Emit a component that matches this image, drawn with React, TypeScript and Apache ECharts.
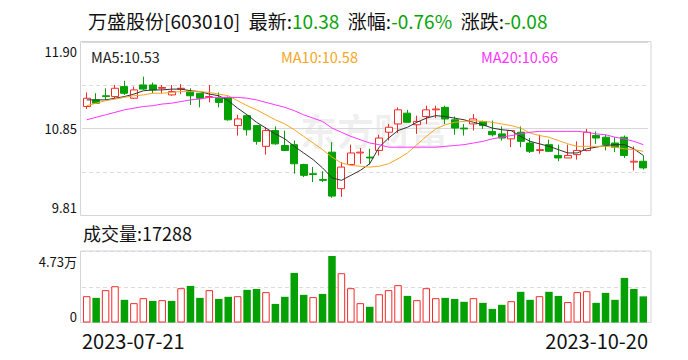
import React, { useEffect, useRef } from "react";
import * as echarts from "echarts";

const dates = [
  "2023-07-21", "2023-07-24", "2023-07-25", "2023-07-26", "2023-07-27", "2023-07-28",
  "2023-07-31", "2023-08-01", "2023-08-02", "2023-08-03", "2023-08-04",
  "2023-08-07", "2023-08-08", "2023-08-09", "2023-08-10", "2023-08-11",
  "2023-08-14", "2023-08-15", "2023-08-16", "2023-08-17", "2023-08-18",
  "2023-08-21", "2023-08-22", "2023-08-23", "2023-08-24", "2023-08-25",
  "2023-08-28", "2023-08-29", "2023-08-30", "2023-08-31", "2023-09-01",
  "2023-09-04", "2023-09-05", "2023-09-06", "2023-09-07", "2023-09-08",
  "2023-09-11", "2023-09-12", "2023-09-13", "2023-09-14", "2023-09-15",
  "2023-09-18", "2023-09-19", "2023-09-20", "2023-09-21", "2023-09-22",
  "2023-09-25", "2023-09-26", "2023-09-27", "2023-09-28",
  "2023-10-09", "2023-10-10", "2023-10-11", "2023-10-12", "2023-10-13",
  "2023-10-16", "2023-10-17", "2023-10-18", "2023-10-19", "2023-10-20",
];

const openPrices = [
  11.12, 11.2, 11.25, 11.24, 11.36, 11.22, 11.38, 11.38, 11.34, 11.26,
  11.33, 11.3, 11.28, 11.23, 11.22, 11.23, 10.89, 11.01, 10.89, 10.64,
  10.83, 10.65, 10.66, 10.42, 10.31, 10.24, 10.57, 10.13, 10.42, 10.56,
  10.51, 10.59, 10.81, 10.91, 11.04, 10.9, 11.0, 11.08, 11.11, 10.96,
  10.86, 10.91, 10.94, 10.82, 10.79, 10.73, 10.81, 10.68, 10.59, 10.66,
  10.53, 10.5, 10.54, 10.59, 10.77, 10.75, 10.68, 10.75, 10.45, 10.46,
];
const closePrices = [
  11.22, 11.16, 11.24, 11.34, 11.28, 11.32, 11.33, 11.32, 11.35, 11.3,
  11.34, 11.25, 11.22, 11.24, 11.17, 10.96, 10.97, 10.84, 10.7, 10.83,
  10.67, 10.59, 10.43, 10.29, 10.3, 10.23, 10.04, 10.39, 10.56, 10.57,
  10.5, 10.74, 10.87, 11.08, 10.93, 10.94, 11.08, 11.09, 10.97, 10.86,
  10.85, 10.97, 10.89, 10.78, 10.74, 10.83, 10.7, 10.58, 10.6, 10.58,
  10.5, 10.53, 10.59, 10.81, 10.74, 10.66, 10.63, 10.53, 10.46, 10.38,
];
const lowPrices = [
  11.09, 11.15, 11.2, 11.22, 11.26, 11.21, 11.32, 11.28, 11.28, 11.25,
  11.27, 11.14, 11.11, 11.17, 11.11, 10.95, 10.77, 10.77, 10.66, 10.54,
  10.66, 10.59, 10.31, 10.27, 10.21, 10.21, 10.02, 10.03, 10.42, 10.43,
  10.42, 10.53, 10.71, 10.8, 10.93, 10.79, 10.91, 10.98, 10.91, 10.78,
  10.77, 10.83, 10.85, 10.76, 10.71, 10.63, 10.63, 10.56, 10.55, 10.57,
  10.46, 10.5, 10.48, 10.58, 10.67, 10.59, 10.57, 10.5, 10.35, 10.36,
];
const highPrices = [
  11.29, 11.28, 11.34, 11.38, 11.43, 11.36, 11.48, 11.41, 11.38, 11.38,
  11.39, 11.34, 11.28, 11.38, 11.29, 11.24, 11.02, 11.01, 10.89, 10.87,
  10.88, 10.83, 10.71, 10.43, 10.39, 10.34, 10.69, 10.45, 10.66, 10.62,
  10.61, 10.78, 10.91, 11.11, 11.08, 11.01, 11.13, 11.13, 11.13, 11.0,
  10.91, 11.03, 10.95, 10.95, 10.88, 10.83, 10.88, 10.74, 10.78, 10.72,
  10.66, 10.66, 10.7, 10.85, 10.82, 10.78, 10.75, 10.77, 10.64, 10.53,
];
const volumes = [
  17400, 16300, 21400, 24000, 15000, 12800, 16100, 14300, 14800, 14300,
  22700, 24200, 16300, 21400, 15600, 17000, 17400, 21600, 22200, 20100,
  12300, 17000, 32800, 18300, 16800, 18900, 44000, 32600, 22700, 12800,
  10400, 18700, 21400, 24700, 17600, 14800, 22700, 16100, 16300, 15600,
  13700, 16100, 13000, 9000, 11700, 14100, 20300, 15000, 17400, 20300,
  17600, 13500, 20100, 20700, 13000, 19600, 15000, 29500, 22200, 17288,
];
const ma5 = [
  11.2, 11.2, 11.2, 11.22, 11.24, 11.27, 11.31, 11.32, 11.32, 11.33,
  11.33, 11.31, 11.3, 11.27, 11.25, 11.19, 11.1, 11.02, 10.93, 10.86,
  10.79, 10.73, 10.64, 10.56, 10.48, 10.38, 10.26, 10.23, 10.29, 10.35,
  10.43, 10.63, 10.74, 10.83, 10.87, 10.93, 10.98, 11.01, 11.0, 10.98,
  10.96, 10.93, 10.9, 10.86, 10.84, 10.83, 10.76, 10.7, 10.67, 10.64,
  10.6, 10.56, 10.56, 10.61, 10.63, 10.65, 10.66, 10.66, 10.61, 10.53,
];
const ma10 = [
  11.13, 11.16, 11.19, 11.21, 11.23, 11.25, 11.26, 11.28, 11.28, 11.29,
  11.3, 11.3, 11.3, 11.29, 11.27, 11.25, 11.19, 11.13, 11.08, 11.02,
  10.96, 10.91, 10.84, 10.76, 10.68, 10.6, 10.51, 10.44, 10.41, 10.4,
  10.39, 10.4, 10.43, 10.49, 10.56, 10.66, 10.76, 10.85, 10.9, 10.93,
  10.94, 10.95, 10.94, 10.93, 10.91, 10.89, 10.86, 10.8, 10.77, 10.75,
  10.71, 10.67, 10.64, 10.64, 10.64, 10.64, 10.63, 10.61, 10.6, 10.58,
];
const ma20 = [
  10.96, 10.99, 11.02, 11.05, 11.08, 11.1, 11.12, 11.13, 11.15, 11.16,
  11.18, 11.2, 11.21, 11.23, 11.23, 11.23, 11.23, 11.22, 11.2, 11.17,
  11.14, 11.11, 11.07, 11.02, 10.98, 10.94, 10.86, 10.81, 10.76, 10.72,
  10.68, 10.66, 10.63, 10.63, 10.63, 10.63, 10.63, 10.63, 10.64, 10.65,
  10.66, 10.68, 10.7, 10.73, 10.75, 10.77, 10.79, 10.81, 10.82, 10.82,
  10.82, 10.82, 10.82, 10.81, 10.79, 10.78, 10.75, 10.73, 10.7, 10.66,
];

const priceTickLabels = ["9.81", "", "10.85", "", "11.90"];
const volumeTickLabels = ["0", "", "4.73万"];
const xTickLabels = ["2023-07-21", "2023-10-20"];

const RED = "#f52b2b";
const GREEN = "#04a004";
const TITLE_GREEN = "#0aa40a";
const FONT = '"Microsoft YaHei", "Noto Sans CJK SC", "Noto Sans", sans-serif';

const PRICE_MIN = 9.806;
const PRICE_MAX = 11.898;
const PRICE_STEP = 0.523;
const PRICE_HALF_STEP = 1.046;
const VOL_MAX = 47300;
const VOL_STEP = 23650;

export default function App() {
  const ref = useRef<HTMLDivElement>(null);

  useEffect(() => {
    document.body.style.margin = "0";
    const chart = echarts.init(ref.current!, undefined, { renderer: "svg" });

    const candleData = dates.map((_, i) => [openPrices[i], closePrices[i], lowPrices[i], highPrices[i]]);
    const volumeData = volumes.map((v, i) => {
      const prev = i === 0 ? openPrices[0] : closePrices[i - 1];
      const up = closePrices[i] >= prev;
      return {
        value: v,
        itemStyle: up
          ? { color: "#ffffff", borderColor: RED, borderWidth: 1 }
          : { color: GREEN, borderColor: GREEN, borderWidth: 0 },
      };
    });

    const labelRich = {
      t: { fontSize: 13, fontFamily: FONT, color: "#111", padding: [3, 0, 0, 0] },
      tv: { fontSize: 13, fontFamily: FONT, color: "#111", padding: [4, 0, 0, 0] },
      m: { fontSize: 13, fontFamily: FONT, color: "#111" },
      b: { fontSize: 13, fontFamily: FONT, color: "#111", padding: [0, 0, 2, 0] },
    };

    const option: any = {
      animation: false,
      backgroundColor: "#ffffff",
      grid: [
        { left: 82, right: 40, top: 42, height: 173.5 },
        { left: 82, right: 40, top: 251, height: 71.5 },
      ],
      xAxis: [
        {
          type: "category", gridIndex: 0, data: dates, boundaryGap: true,
          axisLine: { show: false }, axisTick: { show: false }, axisLabel: { show: false }, splitLine: { show: false },
        },
        {
          type: "category", gridIndex: 1, data: dates, boundaryGap: true,
          axisLine: { show: false }, axisTick: { show: false }, axisLabel: { show: false }, splitLine: { show: false },
        },
        {
          type: "category", gridIndex: 1, data: dates, boundaryGap: false, position: "bottom",
          axisLine: { show: false }, axisTick: { show: false }, splitLine: { show: false },
          axisLabel: {
            show: true,
            interval: 0,
            margin: 8,
            fontSize: 20,
            fontFamily: FONT,
            color: "#111",
            alignMinLabel: "left",
            alignMaxLabel: "right",
            formatter: (v: string) => (xTickLabels.includes(v) ? v : ""),
          },
        },
      ],
      yAxis: [
        {
          type: "value", gridIndex: 0, min: PRICE_MIN, max: PRICE_MAX, interval: PRICE_STEP,
          axisLine: { show: false }, axisTick: { show: false },
          splitLine: { show: true, lineStyle: { color: "#dcdcdc", type: [4, 3], width: 1 } },
          axisLabel: {
            show: true, margin: 5, fontSize: 13, fontFamily: FONT, color: "#111",
            verticalAlignMinLabel: "bottom", verticalAlignMaxLabel: "top",
            rich: labelRich,
            formatter: (_v: number, idx: number) => {
              const s = priceTickLabels[idx] ?? "";
              if (!s) return "";
              return idx === 0 ? `{b|${s}}` : idx === 4 ? `{t|${s}}` : `{m|${s}}`;
            },
          },
        },
        {
          type: "value", gridIndex: 0, min: PRICE_MIN, max: PRICE_MAX, interval: PRICE_HALF_STEP,
          axisLine: { show: false }, axisTick: { show: false }, axisLabel: { show: false },
          splitLine: { show: true, lineStyle: { color: "#d8d8d8", type: "solid", width: 1 } },
        },
        {
          type: "value", gridIndex: 1, min: 0, max: VOL_MAX, interval: VOL_STEP,
          axisLine: { show: false }, axisTick: { show: false },
          splitLine: { show: true, lineStyle: { color: "#dcdcdc", type: [4, 3], width: 1 } },
          axisLabel: {
            show: true, margin: 5, fontSize: 13, fontFamily: FONT, color: "#111",
            verticalAlignMinLabel: "bottom", verticalAlignMaxLabel: "top",
            rich: labelRich,
            formatter: (_v: number, idx: number) => {
              const s = volumeTickLabels[idx] ?? "";
              if (!s) return "";
              return idx === 2 ? `{tv|${s}}` : `{m|${s}}`;
            },
          },
        },
      ],
      graphic: [
        {
          type: "text", left: 88, top: 11, z: 10,
          style: {
            text: "{k|万盛股份[603010]  最新:}{g|10.38}{k|  涨幅:}{g|-0.76%}{k|  涨跌:}{g|-0.08}",
            rich: {
              k: { fontSize: 19, fontFamily: FONT, fill: "#111" },
              g: { fontSize: 19, fontFamily: FONT, fill: TITLE_GREEN },
            },
          },
        },
        {
          type: "text", x: 91, y: 56, z: 10,
          style: { text: "MA5:10.53", fontSize: 14.5, fontFamily: FONT, fill: "#222", verticalAlign: "middle" },
        },
        {
          type: "text", x: 281, y: 56, z: 10,
          style: { text: "MA10:10.58", fontSize: 14.5, fontFamily: FONT, fill: "#f5a623", verticalAlign: "middle" },
        },
        {
          type: "text", x: 481, y: 56, z: 10,
          style: { text: "MA20:10.66", fontSize: 14.5, fontFamily: FONT, fill: "#ff33ff", verticalAlign: "middle" },
        },
        {
          type: "text", x: 83, y: 233, z: 10,
          style: { text: "成交量:17288", fontSize: 18, fontFamily: FONT, fill: "#111", verticalAlign: "middle" },
        },
        {
          type: "text", x: 300, y: 130, z: 0, silent: true,
          style: { text: "东方财富", fontSize: 37, fontWeight: "bold", fontFamily: FONT, fill: "rgba(0,0,0,0.07)", verticalAlign: "middle" },
        },
        {
          type: "rect", shape: { x: 80.5, y: 41.5, width: 570.5, height: 174 }, z: 1, silent: true,
          style: { fill: "none", stroke: "#d4d4dc", lineWidth: 1 },
        },
        {
          type: "rect", shape: { x: 80.5, y: 251, width: 570.5, height: 71.5 }, z: 1, silent: true,
          style: { fill: "none", stroke: "#d4d4dc", lineWidth: 1 },
        },
      ],
      series: [
        {
          type: "candlestick", xAxisIndex: 0, yAxisIndex: 0, data: candleData, barWidth: 7.5,
          itemStyle: { color: "#ffffff", color0: GREEN, borderColor: RED, borderColor0: GREEN, borderWidth: 1 },
        },
        { type: "line", xAxisIndex: 0, yAxisIndex: 0, data: ma5, symbol: "none", lineStyle: { color: "#333", width: 1 }, z: 3 },
        { type: "line", xAxisIndex: 0, yAxisIndex: 0, data: ma10, symbol: "none", lineStyle: { color: "#f5a623", width: 1 }, z: 3 },
        { type: "line", xAxisIndex: 0, yAxisIndex: 0, data: ma20, symbol: "none", lineStyle: { color: "#ff33ff", width: 1 }, z: 3 },
        { type: "bar", xAxisIndex: 1, yAxisIndex: 2, data: volumeData, barWidth: 7.5 },
      ],
    };

    chart.setOption(option);
    return () => chart.dispose();
  }, []);

  return <div ref={ref} style={{ width: 688, height: 360, position: "fixed", left: 0, top: 0 }} />;
}
